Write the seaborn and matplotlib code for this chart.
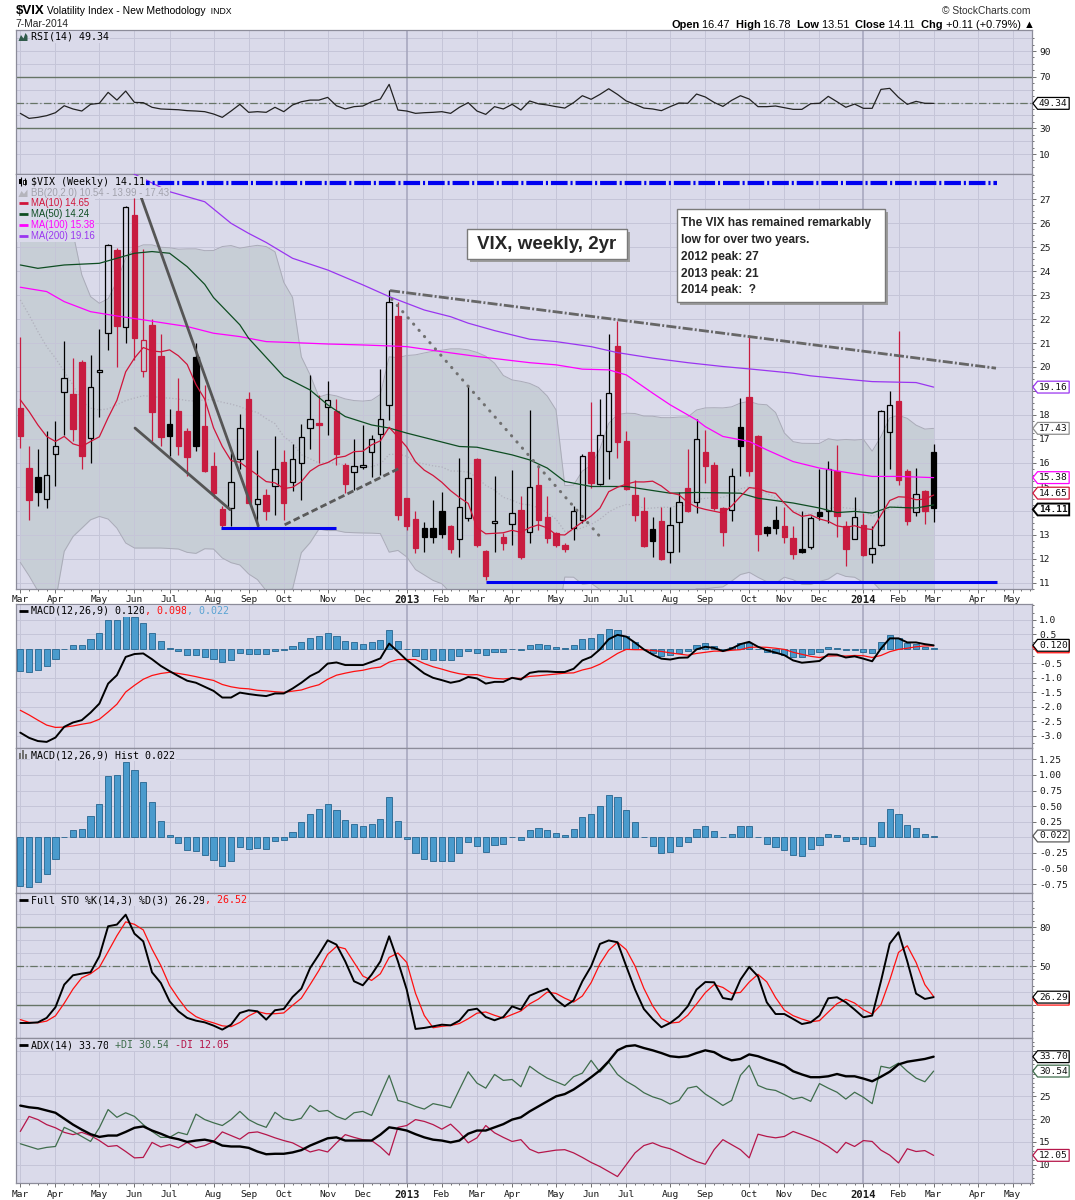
import matplotlib
matplotlib.use("Agg")
import matplotlib.pyplot as plt
from matplotlib.patches import Rectangle
from matplotlib.path import Path
import numpy as np
import pandas as pd
import seaborn as sns

# weekly $VIX bars, week of 5-Mar-2012 .. week of 3-Mar-2014
first_week = "2012-03-05"
opens = [18.28, 15.78, 15.40, 14.48, 16.36, 18.95, 18.88, 20.21, 17.03, 19.78,
         21.44, 24.89, 21.69, 26.35, 19.85, 21.76, 20.46, 17.63, 18.17, 17.33,
         20.41, 17.54, 15.87, 14.07, 14.11, 16.15, 18.66, 14.27, 14.66, 15.05,
         16.03, 15.18, 16.01, 17.45, 17.65, 18.31, 18.17, 15.89, 15.61, 15.82,
         16.43, 17.19, 18.42, 22.15, 14.52, 13.65, 13.27, 13.27, 13.99, 13.37,
         12.81, 13.69, 16.17, 12.33, 13.48, 12.88, 13.44, 14.04, 13.11, 15.08,
         13.73, 13.06, 12.58, 13.27, 13.62, 16.43, 15.11, 16.51, 20.89, 16.92,
         14.66, 13.97, 13.24, 13.55, 12.27, 13.52, 14.94, 14.36, 16.44, 15.89,
         14.11, 14.04, 17.49, 18.74, 17.10, 13.31, 13.59, 13.37, 12.86, 12.41,
         12.48, 13.93, 13.97, 15.64, 13.37, 12.83, 13.41, 12.20, 12.58, 17.28,
         18.60, 15.64, 13.94, 14.83, 16.47]
highs = [21.27, 16.68, 16.58, 17.31, 17.76, 21.09, 20.39, 20.30, 20.50, 21.59,
         25.14, 24.95, 26.72, 27.04, 24.93, 22.00, 21.38, 18.24, 19.53, 17.47,
         20.99, 19.25, 16.43, 14.20, 16.40, 18.03, 18.97, 16.54, 14.90, 17.10,
         16.54, 16.79, 17.63, 19.67, 18.84, 19.43, 18.67, 15.98, 16.99, 17.56,
         17.17, 19.92, 23.22, 22.70, 14.55, 13.97, 13.51, 14.45, 14.76, 13.41,
         16.22, 19.25, 16.20, 12.37, 15.43, 13.06, 15.68, 14.62, 18.21, 15.92,
         14.62, 13.13, 12.67, 14.18, 16.37, 18.53, 18.66, 21.38, 21.92, 17.33,
         15.29, 14.57, 13.73, 14.15, 14.15, 14.80, 16.57, 17.82, 17.35, 16.03,
         14.15, 15.80, 18.72, 21.34, 17.15, 13.35, 14.20, 14.15, 13.34, 13.97,
         13.79, 15.73, 16.08, 16.75, 13.55, 14.59, 13.90, 13.34, 18.20, 19.00,
         21.51, 15.75, 15.80, 14.85, 16.78]
lows = [16.61, 13.62, 14.18, 14.13, 15.01, 17.17, 16.93, 15.73, 15.98, 17.93,
        20.71, 19.98, 20.99, 20.30, 19.60, 16.89, 16.68, 16.29, 16.33, 15.46,
        16.50, 15.60, 14.52, 13.31, 13.34, 15.73, 14.30, 13.34, 13.62, 13.83,
        13.62, 14.83, 14.45, 16.58, 15.98, 17.17, 15.92, 14.73, 14.87, 15.73,
        15.40, 15.50, 17.79, 13.62, 13.20, 12.23, 12.26, 12.67, 12.86, 12.23,
        12.05, 13.55, 12.48, 11.09, 12.27, 12.37, 12.58, 11.98, 12.65, 13.20,
        12.65, 12.47, 12.27, 12.79, 13.48, 14.94, 15.08, 15.32, 16.19, 14.88,
        13.58, 12.48, 12.05, 11.95, 11.81, 12.27, 13.95, 13.90, 15.15, 14.04,
        12.51, 13.55, 15.46, 15.46, 12.30, 12.93, 13.04, 12.65, 11.98, 12.23,
        12.41, 13.59, 13.48, 12.90, 11.67, 12.81, 12.10, 11.81, 12.54, 15.75,
        15.08, 13.41, 13.76, 13.45, 13.51]
closes = [17.10, 14.45, 14.80, 15.50, 16.71, 19.53, 17.42, 16.30, 19.16, 19.88,
          25.08, 21.73, 26.67, 21.23, 21.13, 18.10, 17.06, 17.10, 16.71, 16.26,
          16.68, 15.64, 14.73, 13.41, 15.19, 17.45, 14.34, 14.48, 13.97, 15.73,
          14.32, 16.15, 17.07, 17.82, 17.56, 18.63, 16.37, 15.12, 15.87, 15.92,
          16.99, 17.83, 22.70, 13.80, 13.37, 12.44, 12.88, 12.90, 13.02, 12.41,
          14.15, 15.36, 12.55, 11.26, 13.58, 12.67, 13.90, 12.05, 14.98, 13.59,
          12.86, 12.55, 12.41, 14.00, 16.29, 15.15, 17.17, 18.91, 16.85, 14.90,
          13.80, 12.51, 12.74, 11.98, 13.41, 14.36, 13.97, 16.99, 15.87, 14.13,
          13.09, 15.43, 16.72, 15.66, 13.02, 13.06, 13.27, 12.90, 12.20, 12.27,
          13.69, 13.76, 15.73, 13.76, 12.41, 13.73, 12.13, 12.44, 18.17, 18.42,
          15.26, 13.55, 14.71, 14.00, 14.11]

# overlay values on the first weeks (they depend on bars before the window)
ma10_head = [18.63, 18.14, 17.58, 17.10, 16.89, 17.10, 16.79, 16.68, 16.89]
bb_upper_head = [33.8, 33.1, 32.3, 31.5, 30.5, 27.3, 25.6, 23.85, 22.94, 22.66,
                 22.85, 23.57, 24.55, 24.96, 25.1, 25.1, 25.0, 24.98, 24.92]
bb_mid_head = [22.80, 22.17, 21.48, 20.85, 20.37, 19.81, 19.25, 18.56, 18.28, 18.21,
               18.25, 18.42, 18.60, 18.70, 18.80, 18.77, 18.72, 18.70, 18.66]
bb_lower_head = [11.84, 11.28, 10.65, 10.20, 10.20, 12.30, 12.92, 13.27, 13.62, 13.76,
                 13.65, 13.27, 12.65, 12.44, 12.44, 12.44, 12.44, 12.42, 12.40]

ma50_idx = [0, 2, 5, 9, 11, 13, 15, 17, 19, 21, 22, 25, 26, 28, 30, 33, 35, 37, 40, 42, 44,
            47, 50, 52, 56, 58, 60, 62, 65, 69, 74, 77, 82, 84, 88, 91, 93, 95, 97, 99, 102, 104]
ma50_val = [24.26, 24.12, 24.26, 24.33, 24.54, 24.75, 24.82, 24.75, 24.19, 23.45, 22.9,
            21.76, 21.2, 20.4, 19.6, 19.04, 18.42, 17.93, 17.58, 17.45, 17.24, 16.96,
            16.68, 16.65, 16.33, 16.12, 15.78, 15.22, 15.01, 15.01, 14.73, 14.76, 14.73,
            14.52, 14.32, 14.11, 13.92, 13.97, 13.90, 14.15, 14.11, 14.24]
ma100_idx = [0, 3, 5, 8, 11, 14, 17, 19, 22, 25, 28, 31, 35, 39, 42, 44, 48, 52, 58, 61,
             64, 67, 69, 72, 74, 77, 78, 80, 83, 85, 88, 91, 94, 97, 100, 104]
ma100_val = [23.33, 23.15, 22.73, 22.31, 22.13, 21.97, 21.80, 21.69, 21.41, 21.27, 21.06,
             21.02, 20.96, 20.92, 20.88, 20.85, 20.64, 20.44, 20.18, 20.09, 19.91, 19.88,
             19.67, 18.91, 18.42, 17.79, 17.51, 17.10, 16.89, 16.54, 16.05, 15.78, 15.60,
             15.43, 15.43, 15.38]
ma200_idx = [0, 10, 17, 21, 24, 26, 28, 31, 35, 39, 42, 44, 46, 49, 51, 54, 58, 61, 65, 68,
             72, 76, 80, 83, 88, 90, 94, 97, 102, 104]
ma200_val = [29.6, 28.6, 27.32, 26.90, 26.0, 25.58, 25.2, 24.54, 24.05, 23.43, 22.94, 22.66,
             22.38, 22.10, 21.83, 21.52, 21.16, 21.06, 20.85, 20.60, 20.37, 20.18, 20.02,
             19.92, 19.74, 19.63, 19.49, 19.39, 19.35, 19.16]

rsi = [41.6, 37.7, 38.5, 39.8, 42.1, 47.5, 45.0, 43.4, 48.6, 49.4,
       57.9, 51.9, 58.9, 50.1, 49.9, 46.3, 45.0, 44.7, 44.4, 43.7,
       43.4, 42.9, 41.1, 38.5, 43.4, 48.6, 42.4, 42.9, 42.4, 46.3,
       42.9, 48.1, 50.6, 51.9, 51.9, 54.0, 47.5, 45.0, 46.8, 47.3,
       50.6, 52.7, 64.1, 44.2, 43.4, 41.6, 42.1, 42.4, 42.9, 41.6,
       46.3, 49.9, 43.4, 40.8, 46.8, 45.0, 48.6, 44.2, 51.2, 49.0,
       48.1, 46.8, 45.7, 49.9, 55.3, 52.5, 56.3, 60.7, 56.3, 51.2,
       48.6, 45.7, 45.0, 43.7, 46.8, 49.6, 49.4, 56.6, 54.3, 50.1,
       47.0, 51.7, 55.3, 52.7, 46.8, 46.8, 47.3, 46.0, 44.7, 44.7,
       49.1, 49.4, 54.8, 50.6, 46.3, 48.8, 45.5, 45.5, 60.2, 61.0,
       54.0, 48.6, 50.9, 49.4, 49.34]
macd_line = [-2.89, -3.07, -3.18, -3.21, -3.06, -2.69, -2.54, -2.46, -2.20, -1.89,
             -1.20, -0.91, -0.28, -0.18, -0.16, -0.36, -0.59, -0.77, -0.94, -1.10,
             -1.17, -1.31, -1.45, -1.68, -1.68, -1.51, -1.56, -1.60, -1.63, -1.54,
             -1.54, -1.37, -1.17, -0.94, -0.79, -0.51, -0.47, -0.56, -0.56, -0.56,
             -0.45, -0.33, 0.18, -0.10, -0.39, -0.62, -0.85, -1.00, -1.08, -1.17,
             -1.11, -0.97, -1.02, -1.20, -1.14, -1.14, -1.00, -1.06, -0.83, -0.78,
             -0.78, -0.80, -0.80, -0.69, -0.40, -0.28, -0.02, 0.33, 0.48, 0.42,
             0.21, -0.02, -0.20, -0.34, -0.37, -0.31, -0.30, -0.02, 0.07, 0.03,
             -0.08, 0.01, 0.16, 0.24, 0.07, -0.05, -0.13, -0.22, -0.40, -0.48,
             -0.45, -0.42, -0.19, -0.20, -0.30, -0.26, -0.34, -0.43, 0.01, 0.36,
             0.36, 0.22, 0.22, 0.16, 0.120]
macd_hist = [-0.77, -0.79, -0.72, -0.58, -0.35, 0.01, 0.12, 0.14, 0.35, 0.54,
             0.98, 1.00, 1.21, 1.08, 0.89, 0.56, 0.26, 0.04, -0.09, -0.20,
             -0.21, -0.28, -0.36, -0.45, -0.37, -0.15, -0.18, -0.17, -0.18, -0.06,
             -0.04, 0.09, 0.25, 0.38, 0.45, 0.54, 0.44, 0.28, 0.22, 0.18,
             0.22, 0.30, 0.64, 0.27, -0.02, -0.25, -0.34, -0.38, -0.38, -0.38,
             -0.25, -0.07, -0.13, -0.23, -0.12, -0.10, 0.01, -0.04, 0.12, 0.15,
             0.12, 0.07, 0.04, 0.14, 0.33, 0.38, 0.51, 0.68, 0.64, 0.44,
             0.24, 0.01, -0.14, -0.25, -0.23, -0.13, -0.08, 0.14, 0.19, 0.11,
             0.00, 0.06, 0.19, 0.19, 0.01, -0.10, -0.15, -0.20, -0.28, -0.29,
             -0.19, -0.12, 0.06, 0.04, -0.05, -0.03, -0.10, -0.13, 0.24, 0.46,
             0.38, 0.20, 0.15, 0.06, 0.022]
sto_k = [6.4, 6.4, 6.9, 10.3, 18.5, 35.9, 43.1, 44.4, 45.4, 57.7,
         80.8, 82.1, 89.7, 75.1, 69.2, 45.4, 37.2, 23.1, 15.4, 10.3,
         8.2, 6.9, 4.4, 1.3, 5.1, 14.1, 16.2, 15.4, 9.0, 16.2,
         17.2, 26.4, 32.8, 48.7, 59.0, 70.0, 66.7, 53.8, 38.5, 35.4,
         43.6, 53.8, 73.1, 53.8, 32.1, 1.8, 2.6, 3.8, 5.1, 4.6,
         8.2, 16.2, 17.4, 11.0, 8.5, 11.0, 19.2, 16.7, 27.4, 30.3,
         32.8, 24.4, 19.2, 23.8, 38.5, 50.0, 67.2, 69.9, 68.5, 50.0,
         32.1, 17.2, 9.5, 3.1, 6.4, 11.5, 19.2, 32.1, 37.9, 37.7,
         25.6, 24.4, 39.7, 49.5, 42.3, 22.3, 13.3, 13.3, 9.5, 5.6,
         6.9, 12.1, 25.4, 26.2, 22.3, 16.7, 10.8, 12.1, 38.5, 67.4,
         76.2, 53.8, 29.0, 24.9, 26.29]
sto_d_head = [9.0, 6.9]
adx = [22.97, 22.6, 22.4, 21.9, 21.4, 20.1, 18.8, 17.7, 16.7, 16.1,
       16.4, 16.4, 17.2, 18.1, 18.4, 17.5, 16.8, 16.0, 15.6, 15.0,
       15.3, 15.5, 15.1, 14.2, 14.0, 14.0, 13.7, 12.9, 12.3, 12.4,
       12.4, 12.7, 13.2, 14.2, 15.0, 15.8, 16.0, 15.3, 15.3, 15.3,
       15.3, 16.6, 18.2, 17.9, 17.5, 16.7, 16.0, 15.5, 15.3, 14.9,
       15.3, 16.8, 17.5, 17.5, 18.2, 18.9, 19.9, 20.4, 21.7, 22.8,
       23.9, 25.0, 25.5, 26.5, 27.8, 29.2, 30.7, 32.7, 35.1, 36.0,
       36.2, 35.6, 35.1, 34.5, 33.8, 33.6, 33.8, 34.5, 35.1, 34.7,
       33.6, 32.9, 33.2, 34.2, 33.8, 33.1, 32.5, 31.8, 30.5, 29.8,
       29.2, 29.2, 29.4, 29.9, 29.4, 29.4, 28.9, 28.3, 29.3, 30.4,
       32.0, 32.6, 32.9, 33.2, 33.70]
plus_di = [14.6, 14.0, 13.4, 13.8, 14.0, 18.2, 17.3, 16.2, 15.1, 18.1,
           22.1, 20.4, 21.4, 20.6, 18.8, 17.3, 16.0, 16.0, 17.1, 16.6,
           21.1, 19.9, 19.2, 18.6, 19.9, 21.7, 19.9, 18.9, 18.2, 21.5,
           20.1, 19.7, 20.2, 23.0, 21.7, 21.9, 20.6, 19.9, 21.4, 21.7,
           20.8, 25.2, 29.6, 24.1, 23.6, 22.8, 22.2, 23.4, 23.0, 22.5,
           26.5, 30.4, 27.9, 26.8, 29.8, 28.5, 28.7, 27.1, 31.6, 30.2,
           29.0, 28.2, 27.4, 29.3, 30.1, 32.9, 30.3, 32.5, 29.8, 28.3,
           27.2, 25.8, 24.9, 24.3, 23.3, 24.1, 26.8, 27.2, 25.5, 24.3,
           23.0, 24.1, 29.6, 31.8, 27.4, 26.6, 26.3, 25.4, 24.4, 24.8,
           23.9, 27.8, 26.8, 25.9, 24.4, 25.9, 24.8, 23.4, 31.6, 31.2,
           32.3, 30.5, 29.0, 28.2, 30.54]
minus_di = [17.3, 20.6, 19.9, 18.8, 18.1, 17.1, 16.6, 17.1, 16.4, 15.3,
            14.0, 14.2, 12.9, 11.5, 11.6, 14.9, 13.9, 14.4, 13.7, 14.9,
            13.7, 14.2, 15.1, 17.2, 16.4, 15.6, 17.0, 17.2, 16.6, 15.9,
            15.3, 14.8, 13.8, 12.8, 13.3, 12.8, 14.8, 16.6, 16.0, 15.5,
            15.3, 13.9, 12.1, 18.2, 18.6, 19.9, 19.5, 18.8, 17.8, 18.9,
            17.1, 14.8, 15.9, 18.6, 17.0, 16.0, 15.1, 15.5, 13.4, 12.6,
            12.9, 13.2, 13.3, 12.6, 11.6, 10.5, 9.6, 8.5, 7.4, 10.0,
            12.6, 14.2, 14.8, 14.0, 13.5, 12.6, 11.6, 10.7, 10.1, 13.3,
            15.5, 14.4, 13.3, 11.5, 16.7, 16.2, 15.9, 16.2, 17.3, 16.6,
            15.9, 15.1, 14.0, 12.6, 14.9, 14.0, 15.3, 15.1, 13.2, 12.1,
            10.4, 13.5, 12.9, 13.1, 12.05]

# hand-drawn lines on the price panel (bar number, price)
trend_x0 = [13.06, 13.06, 30.1, 42.3, 42.1]
trend_y0 = [27.81, 17.45, 13.41, 22.83, 23.19]
trend_x1 = [27.1, 23.9, 43.05, 66.0, 111.1]
trend_y1 = [13.37, 14.04, 15.75, 12.92, 19.95]
level_price = [27.67, 13.27, 11.02]
level_x0 = [12.8, 22.9, 53.0]
level_x1 = [111.2, 36.0, 111.2]

info_lines = ["The VIX has remained remarkably", "low for over two years.",
              "2012 peak: 27", "2013 peak: 21", "2014 peak:  ?"]

sns.set_theme(style="white")
plt.rcParams["font.family"] = ["DejaVu Sans"]

MONO = "DejaVu Sans Mono"
ARIAL = ["Liberation Sans", "DejaVu Sans"]
BG = "#dadaea"
GRID = "#c5c5d8"
YEARGRID = "#a4a4bc"
EDGE = "#8c8c9a"
RED = "#c81c40"
MA10C = "#d0143a"
MA50C = "#0e4d22"
MA100C = "#ff00ff"
MA200C = "#9a35f0"
BAND = "#c7ced6"
HISTC = "#4a9bcd"
HISTE = "#25648f"
REFC = "#667466"
PDI = "#3f6d4c"
MDI = "#b5164a"

n = len(closes)
x = np.arange(n)
weeks = pd.date_range(first_week, periods=n + 11, freq="W-MON")
month_pos = [i for i in range(len(weeks)) if i == 0 or weeks[i].month != weeks[i - 1].month]
month_lab = [str(weeks[i].year) if weeks[i].month == 1 else weeks[i].strftime("%b")
             for i in month_pos]
X0, X1 = -0.49, 115.2

o = np.array(opens)
c = np.array(closes)
cs = pd.Series(closes)
ma10 = cs.rolling(10).mean().to_numpy()
ma10[:9] = ma10_head
mid = cs.rolling(20).mean()
sd = cs.rolling(20).std(ddof=0)
bb_mid = mid.to_numpy()
bb_up = (mid + 2 * sd).to_numpy()
bb_lo = (mid - 2 * sd).to_numpy()
bb_mid[:19] = bb_mid_head
bb_up[:19] = bb_upper_head
bb_lo[:19] = bb_lower_head
signal = np.array(macd_line) - np.array(macd_hist)
sto_d = pd.Series(sto_k).rolling(3).mean().to_numpy()
sto_d[:2] = sto_d_head

W, H = 1075, 1200
fig = plt.figure(figsize=(W / 100, H / 100), dpi=100, facecolor="white")


def panel(top, bottom):
    return fig.add_axes([16 / W, 1 - bottom / H, (1032 - 16) / W, (bottom - top) / H])


def style(ax, ylim, ticks, labels, grid, minor=None):
    ax.set_facecolor(BG)
    ax.set_xlim(X0, X1)
    ax.set_ylim(*ylim)
    for s in ax.spines.values():
        s.set_color(EDGE)
        s.set_linewidth(0.9)
    ax.yaxis.tick_right()
    ax.set_yticks(ticks, labels=labels)
    ax.tick_params(axis="y", which="both", direction="out", length=3, width=0.7,
                   color="#707070", pad=2, labelsize=6.8, labelcolor="#1a1a1a",
                   right=True, left=False)
    for lbl in ax.get_yticklabels():
        lbl.set_family(MONO)
    if minor is not None:
        ax.set_yticks(minor, minor=True)
        ax.tick_params(axis="y", which="minor", length=1.5)
    for g in grid:
        ax.axhline(g, color=GRID, lw=0.7, zorder=1.5)
    for p in month_pos:
        yr = weeks[p].month == 1
        ax.axvline(p, color=YEARGRID if yr else GRID, lw=1.1 if yr else 0.7, zorder=1.5)
    ax.set_xticks(month_pos)
    ax.set_xticks(np.arange(len(weeks)), minor=True)
    ax.tick_params(axis="x", which="both", direction="out", color="#707070", width=0.7,
                   bottom=True, top=False)
    ax.tick_params(axis="x", which="major", length=3)
    ax.tick_params(axis="x", which="minor", length=1.5)
    ax.set_xticklabels([])
    ax.set_xlabel("")
    ax.set_ylabel("")


def month_labels(ax):
    ax.set_xticklabels(month_lab)
    ax.tick_params(axis="x", which="major", labelsize=6.8, pad=2, labelcolor="#1a1a1a")
    for lbl, p in zip(ax.get_xticklabels(), month_pos):
        lbl.set_family(MONO)
        if weeks[p].month == 1:
            lbl.set_fontweight("bold")
            lbl.set_fontsize(7.6)


def tag_box(x0, y0, width, height, mutation_size):
    p = 0.15 * mutation_size
    x0, y0, x1, y1 = x0 - p, y0 - p, x0 + width + p, y0 + height + p
    tip = 0.4 * (y1 - y0)
    return Path([(x0, y0), (x1, y0), (x1, y1), (x0, y1), (x0 - tip, (y0 + y1) / 2),
                 (x0, y0), (x0, y0)], closed=True)


def tag(ax, y, s, ec, bold=False, lw=0.9):
    ax.annotate(s, xy=(1, y), xycoords=ax.get_yaxis_transform(), xytext=(7, 0),
                textcoords="offset pixels", ha="left", va="center", fontsize=6.8,
                family=MONO, fontweight="bold" if bold else "normal", color="#111111",
                bbox=dict(boxstyle=tag_box, fc="white", ec=ec, lw=lw),
                annotation_clip=False, zorder=10)


ax_rsi = panel(29.5, 173.5)
ax_px = panel(173.5, 588.5)
ax_macd = panel(603.5, 748)
ax_hist = panel(748, 893)
ax_sto = panel(893, 1038)
ax_adx = panel(1038, 1183)

# ---- RSI ----
ax = ax_rsi
for lv in (70, 30):
    ax.axhline(lv, color=REFC, lw=1.0, zorder=2)
ax.axhline(50, color=REFC, lw=0.9, ls=(0, (6, 2, 1, 2)), zorder=2)
sns.lineplot(x=x, y=rsi, ax=ax, color="#222222", lw=0.9, zorder=4)
style(ax, (-5.1, 106.7), [10, 30, 50, 70, 90], ["10", "30", "", "70", "90"],
      range(10, 101, 10), minor=range(0, 101, 5))
tag(ax, rsi[-1], "49.34", "black")

# ---- price ----
ax = ax_px
ax.fill_between(x, bb_lo, bb_up, color=BAND, lw=0, zorder=1)
ax.plot(x, bb_up, color="#aaabb8", lw=0.7, zorder=2)
ax.plot(x, bb_lo, color="#aaabb8", lw=0.7, zorder=2)
ax.plot(x, bb_mid, color="#b0b0bc", lw=0.9, ls=(0, (1, 1.6)), zorder=2)
prev = np.r_[o[0], c[:-1]]
col = np.where(c < prev, RED, "black")
top = np.maximum(o, c)
bot = np.minimum(o, c)
ax.vlines(x, top, highs, colors=col, lw=0.9, zorder=3)
ax.vlines(x, lows, bot, colors=col, lw=0.9, zorder=3)
face = [cc if cl <= op else "none" for cc, cl, op in zip(col, c, o)]
ax.bar(x, top - bot, bottom=bot, width=0.62, color=face, edgecolor=col, linewidth=0.9,
       zorder=3)
sns.lineplot(x=ma200_idx, y=ma200_val, ax=ax, color=MA200C, lw=0.9, zorder=4)
sns.lineplot(x=ma100_idx, y=ma100_val, ax=ax, color=MA100C, lw=0.9, zorder=4)
sns.lineplot(x=ma50_idx, y=ma50_val, ax=ax, color=MA50C, lw=0.9, zorder=4)
sns.lineplot(x=x, y=ma10, ax=ax, color=MA10C, lw=0.9, zorder=4)
styles = [dict(color="#555555", lw=2.0, ls="-"),
          dict(color="#555555", lw=2.0, ls="-"),
          dict(color="#5a5a5a", lw=2.0, ls=(0, (2.4, 1.2))),
          dict(color="#707070", lw=2.2, ls=(0, (0.1, 2.6)), dash_capstyle="round"),
          dict(color="#666666", lw=2.0, ls=(0, (3.6, 0.8, 0.7, 0.8)))]
for a, b, cx, d, st in zip(trend_x0, trend_y0, trend_x1, trend_y1, styles):
    ax.plot([a, cx], [b, d], zorder=5, **st)
for k, (lv, a, b) in enumerate(zip(level_price, level_x0, level_x1)):
    ls = (0, (4.0, 0.7, 0.5, 0.7)) if k == 0 else "-"
    ax.plot([a, b], [lv, lv], color="#0000f0", lw=3.0 if k == 0 else 2.2, ls=ls, zorder=5,
            solid_capstyle="butt")
plabels = [str(v) if v not in (14, 19) else "" for v in range(11, 28)]
style(ax, (10.76, 28.08), list(range(11, 28)), plabels,
      range(11, 28), minor=np.arange(10.75, 28.1, 0.25))
month_labels(ax)
tag(ax, ma200_val[-1], "19.16", MA200C)
tag(ax, bb_up[-1], "17.43", "#8e8e8e")
tag(ax, ma100_val[-1], "15.38", MA100C)
tag(ax, ma10[-1] + 0.08, "14.65", MA10C)
tag(ax, closes[-1] - 0.06, "14.11", "black", bold=True, lw=1.4)

# ---- MACD ----
ax = ax_macd
ax.bar(x, macd_hist, width=0.7, color=HISTC, edgecolor=HISTE, linewidth=0.6, zorder=3)
sns.lineplot(x=x, y=signal, ax=ax, color="#ff1010", lw=0.9, zorder=4)
sns.lineplot(x=x, y=macd_line, ax=ax, color="black", lw=1.4, zorder=5)
mt = [1.0, 0.5, 0.0, -0.5, -1.0, -1.5, -2.0, -2.5, -3.0]
style(ax, (-3.42, 1.562), mt, ["1.0", "0.5", "", "-0.5", "-1.0", "-1.5", "-2.0", "-2.5", "-3.0"],
      mt, minor=np.arange(-3.25, 1.6, 0.25))
tag(ax, signal[-1] - 0.03, "0.098", "#ff1010")
tag(ax, macd_line[-1], "0.120", "black")

# ---- MACD histogram ----
ax = ax_hist
ax.bar(x, macd_hist, width=0.7, color=HISTC, edgecolor=HISTE, linewidth=0.6, zorder=3)
ht = [1.25, 1.0, 0.75, 0.5, 0.25, 0.0, -0.25, -0.5, -0.75]
style(ax, (-0.89, 1.43), ht, ["1.25", "1.00", "0.75", "0.50", "0.25", "", "-0.25", "-0.50", "-0.75"],
      ht)
tag(ax, macd_hist[-1], "0.022", "#5a5a5a")

# ---- Full stochastics ----
ax = ax_sto
for lv in (80, 20):
    ax.axhline(lv, color=REFC, lw=1.0, zorder=2)
ax.axhline(50, color=REFC, lw=0.9, ls=(0, (6, 2, 1, 2)), zorder=2)
sns.lineplot(x=x, y=sto_d, ax=ax, color="#ff1010", lw=0.9, zorder=4)
sns.lineplot(x=x, y=sto_k, ax=ax, color="black", lw=1.4, zorder=5)
style(ax, (-5.15, 106.4), [20, 50, 80], ["", "50", "80"], range(10, 101, 10),
      minor=range(0, 101, 5))
tag(ax, sto_d[-1] - 2, "26.52", "#ff1010")
tag(ax, sto_k[-1], "26.29", "black")

# ---- ADX ----
ax = ax_adx
sns.lineplot(x=x, y=minus_di, ax=ax, color=MDI, lw=0.9, zorder=4)
sns.lineplot(x=x, y=plus_di, ax=ax, color=PDI, lw=0.9, zorder=4)
sns.lineplot(x=x, y=adx, ax=ax, color="black", lw=1.7, zorder=5)
at = [10, 15, 20, 25, 30, 35]
style(ax, (5.99, 37.8), at, ["10", "15", "20", "25", "", ""], at, minor=range(6, 38, 1))
month_labels(ax)
tag(ax, adx[-1], "33.70", "black")
tag(ax, plus_di[-1], "30.54", PDI)
tag(ax, minus_di[-1], "12.05", MDI)

# ---- overlay in pixel coordinates: header, legends, notes ----
ax_o = fig.add_axes([0, 0, 1, 1])
ax_o.set_xlim(0, W)
ax_o.set_ylim(H, 0)
ax_o.set_axis_off()


def chain(x0, y0, parts, size, family, bg=None):
    t = None
    for s, color, weight in parts:
        kw = dict(fontsize=size, family=family, color=color, fontweight=weight,
                  va="center", ha="left")
        if bg:
            kw["bbox"] = dict(boxstyle="square,pad=0.08", fc=bg, ec="none")
        if t is None:
            t = ax_o.text(x0, y0, s, **kw)
        else:
            t = ax_o.annotate(s, xy=(1, 0.5), xycoords=t, **kw)
    return t


def dash(y0, color):
    ax_o.plot([19, 27.5], [y0, y0], color=color, lw=2.0, solid_capstyle="butt")


t = ax_o.text(15.5, 11, "$VIX", fontsize=9.5, family=ARIAL, fontweight="bold",
              va="center", ha="left", color="black")
t = ax_o.annotate(" Volatility Index - New Methodology", xy=(1, 0.5), xycoords=t,
                  fontsize=7.5, family=ARIAL, va="center", ha="left", color="black")
ax_o.annotate("  INDX", xy=(1, 0.5), xycoords=t, fontsize=6.2, family=ARIAL,
              va="center", ha="left", color="black")
ax_o.text(15.5, 24, "7-Mar-2014", fontsize=7.4, family=ARIAL, va="center", ha="left")
ax_o.text(1031, 11, "\u00a9 StockCharts.com", fontsize=7.4, family=ARIAL, va="center",
          ha="right", color="#333333")
chain(671, 24.5, [("Open", "black", "bold"), (" 16.47", "black", "normal"),
                  ("  High", "black", "bold"), (" 16.78", "black", "normal"),
                  ("  Low", "black", "bold"), (" 13.51", "black", "normal"),
                  ("  Close", "black", "bold"), (" 14.11", "black", "normal"),
                  ("  Chg", "black", "bold"), (" +0.11 (+0.79%) \u25b2", "black", "normal")],
      7.9, ARIAL)

# legend icons
ax_o.fill([18.5, 21, 23.5, 25.5, 27.5, 27.5, 18.5], [41, 35, 38.5, 33, 36, 41, 41],
          color="#2f5a4a", lw=0)
ax_o.fill([18.5, 21.5, 24, 27.5, 27.5, 18.5], [197, 191, 194, 189.5, 197, 197],
          color="#b4b4bc", lw=0)
for bx, bh in [(19, 6), (22, 9), (25, 5)]:
    ax_o.add_patch(Rectangle((bx, 759 - bh), 2, bh, fc="#707070", ec="none"))
ax_o.vlines([20.5, 24.5], [177, 178], [186, 185], color="black", lw=0.8)
ax_o.add_patch(Rectangle((19.2, 179), 2.6, 5, fc="black", ec="none"))
ax_o.add_patch(Rectangle((23.2, 179.5), 2.6, 4.5, fc="white", ec="black", lw=0.6))

chain(31, 36.7, [("RSI(14) 49.34", "black", "normal")], 7.2, MONO, bg=BG)
ax_o.add_patch(Rectangle((16.5, 174.5), 78, 67, fc=BG, ec="none", zorder=0.5))
chain(31, 181.7, [("$VIX (Weekly) 14.11", "black", "normal")], 7.2, MONO, bg=BG)
chain(31, 192.7, [("BB(20,2.0) 10.54 - 13.99 - 17.43", "#a2a2ac", "normal")], 6.9, ARIAL, bg=BG)
for yy, s, cc in [(203.3, "MA(10) 14.65", MA10C), (214.3, "MA(50) 14.24", MA50C),
                  (225.0, "MA(100) 15.38", MA100C), (236.0, "MA(200) 19.16", MA200C)]:
    chain(31, yy, [(s, cc, "normal")], 6.9, ARIAL, bg=BG)
    dash(yy, cc)
dash(610.7, "black")
chain(31, 610.7, [("MACD(12,26,9) 0.120", "black", "normal"), (", 0.098", "#ff1010", "normal"),
                  (", 0.022", "#5aa3d3", "normal")], 7.2, MONO, bg=BG)
chain(31, 755.3, [("MACD(12,26,9) Hist 0.022", "black", "normal")], 7.2, MONO, bg=BG)
dash(900.3, "black")
chain(31, 900.3, [("Full STO %K(14,3) %D(3) 26.29", "black", "normal"),
                  (", 26.52", "#ff1010", "normal")], 7.2, MONO, bg=BG)
dash(1045.3, "black")
chain(31, 1045.3, [("ADX(14) 33.70", "black", "normal"), (" +DI 30.54", PDI, "normal"),
                   (" -DI 12.05", MDI, "normal")], 7.2, MONO, bg=BG)

# note boxes
ax_o.add_patch(Rectangle((470, 232), 160, 30, fc="#9c9c9c", ec="none"))
ax_o.add_patch(Rectangle((467, 229), 160, 30, fc="white", ec="#7a7a7a", lw=1.0))
ax_o.text(547, 244.5, "VIX, weekly, 2yr", fontsize=13.5, family=ARIAL, fontweight="bold",
          ha="center", va="center")
ax_o.add_patch(Rectangle((680, 212), 208, 93, fc="#9c9c9c", ec="none"))
ax_o.add_patch(Rectangle((677, 209), 208, 93, fc="white", ec="#7a7a7a", lw=1.0))
for yy, s in zip([222.7, 240.0, 256.7, 274.0, 290.5], info_lines):
    ax_o.text(681, yy, s, fontsize=8.6, family=ARIAL, fontweight="bold", ha="left",
              va="center")

fig.savefig("out.png", dpi=100, facecolor="white")
